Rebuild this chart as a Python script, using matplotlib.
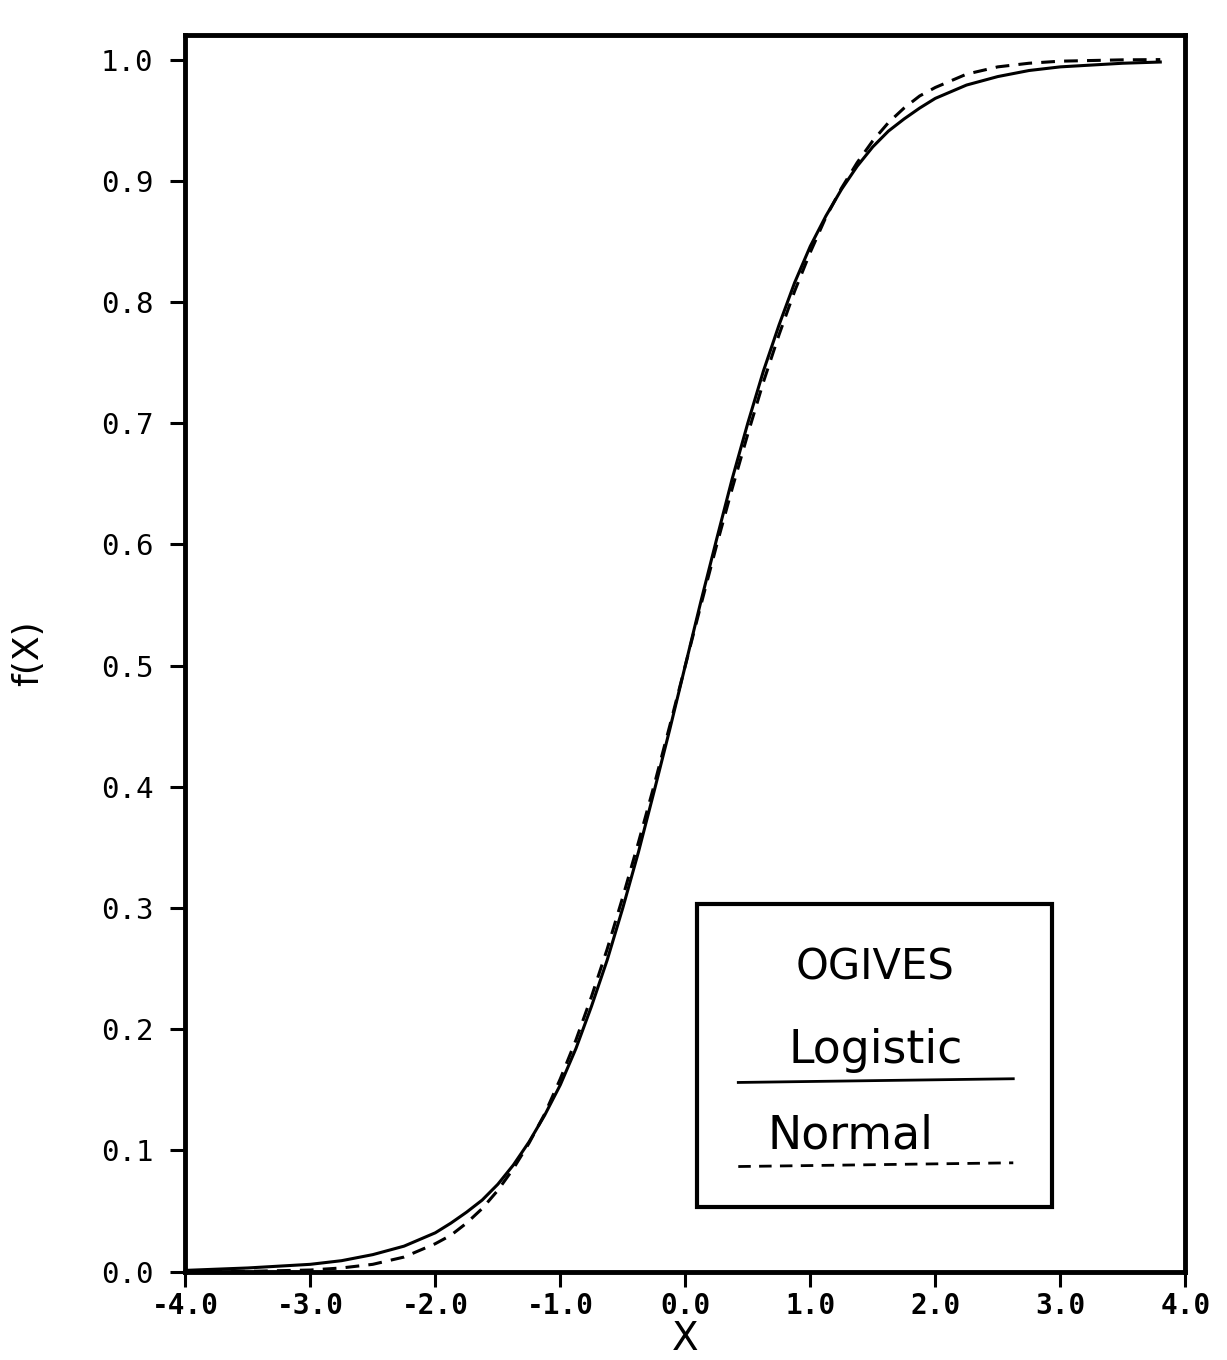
import numpy as np
import matplotlib.pyplot as plt
from matplotlib.patches import Rectangle

# values
x_vals = [-4.0, -3.5, -3.0, -2.75, -2.5, -2.25, -2.0, -1.875, -1.75, -1.625, -1.5,
          -1.375, -1.25, -1.125, -1.0, -0.875, -0.75, -0.625, -0.5, -0.375, -0.25,
          -0.125, 0.0, 0.125, 0.25, 0.375, 0.5, 0.625, 0.75, 0.875, 1.0, 1.125,
          1.25, 1.375, 1.5, 1.625, 1.75, 1.875, 2.0, 2.25, 2.5, 2.75, 3.0, 3.5, 3.8]
logistic = [0.001, 0.003, 0.006, 0.009, 0.014, 0.021, 0.032, 0.040, 0.049, 0.059, 0.072,
            0.088, 0.107, 0.129, 0.154, 0.184, 0.219, 0.257, 0.300, 0.346, 0.396,
            0.447, 0.500, 0.553, 0.604, 0.654, 0.700, 0.743, 0.781, 0.816, 0.846, 0.871,
            0.893, 0.912, 0.928, 0.941, 0.951, 0.960, 0.968, 0.979, 0.986, 0.991, 0.994, 0.997, 0.998]
normal = [0.000, 0.0002, 0.0013, 0.003, 0.006, 0.012, 0.023, 0.030, 0.040, 0.052, 0.067,
          0.085, 0.106, 0.130, 0.159, 0.191, 0.227, 0.266, 0.309, 0.354, 0.401,
          0.450, 0.500, 0.550, 0.599, 0.646, 0.691, 0.734, 0.773, 0.809, 0.841, 0.870,
          0.894, 0.915, 0.933, 0.948, 0.960, 0.970, 0.977, 0.988, 0.994, 0.997, 0.9987, 0.9998, 1.000]

x_ticks = [-4.0, -3.0, -2.0, -1.0, 0.0, 1.0, 2.0, 3.0, 4.0]
y_ticks = [0.0, 0.1, 0.2, 0.3, 0.4, 0.5, 0.6, 0.7, 0.8, 0.9, 1.0]

mono = 'DejaVu Sans Mono'

fig = plt.figure(figsize=(12.27, 13.6), dpi=100)
ax = fig.add_axes([0.151, 0.065, 0.815, 0.909])

ax.plot(x_vals, logistic, color='black', lw=2.2)
ax.plot(x_vals, normal, color='black', lw=2.2, ls=(0, (4.5, 3)))

ax.set_xlim(-4.0, 4.0)
ax.set_ylim(0.0, 1.02)
ax.set_xticks(x_ticks)
ax.set_yticks(y_ticks)
ax.set_xticklabels(['%.1f' % v for v in x_ticks], fontsize=20, family=mono, fontweight='bold')
ax.set_yticklabels(['%.1f' % v for v in y_ticks], fontsize=21, family=mono)
ax.tick_params(direction='out', length=11, width=2.2)
ax.tick_params(axis='x', pad=4)
ax.tick_params(axis='y', pad=12)

for s in ax.spines.values():
    s.set_linewidth(3.5)

ax.set_xlabel('X', fontsize=28, labelpad=0)
ax.set_ylabel('f(X)', fontsize=26, labelpad=40)

# legend box drawn as in the original
ax.add_patch(Rectangle((0.512, 0.052), 0.355, 0.245, transform=ax.transAxes,
                       fill=False, lw=3, ec='black'))
ax.text(0.69, 0.246, 'OGIVES', transform=ax.transAxes, ha='center', va='center', fontsize=30)
ax.text(0.69, 0.179, 'Logistic', transform=ax.transAxes, ha='center', va='center', fontsize=33)
ax.plot([0.553, 0.828], [0.153, 0.156], transform=ax.transAxes, color='black', lw=2)
ax.text(0.665, 0.110, 'Normal', transform=ax.transAxes, ha='center', va='center', fontsize=33)
ax.plot([0.553, 0.828], [0.085, 0.088], transform=ax.transAxes, color='black', lw=2,
        ls=(0, (4.5, 3)))

plt.savefig('out.png', dpi=100)
